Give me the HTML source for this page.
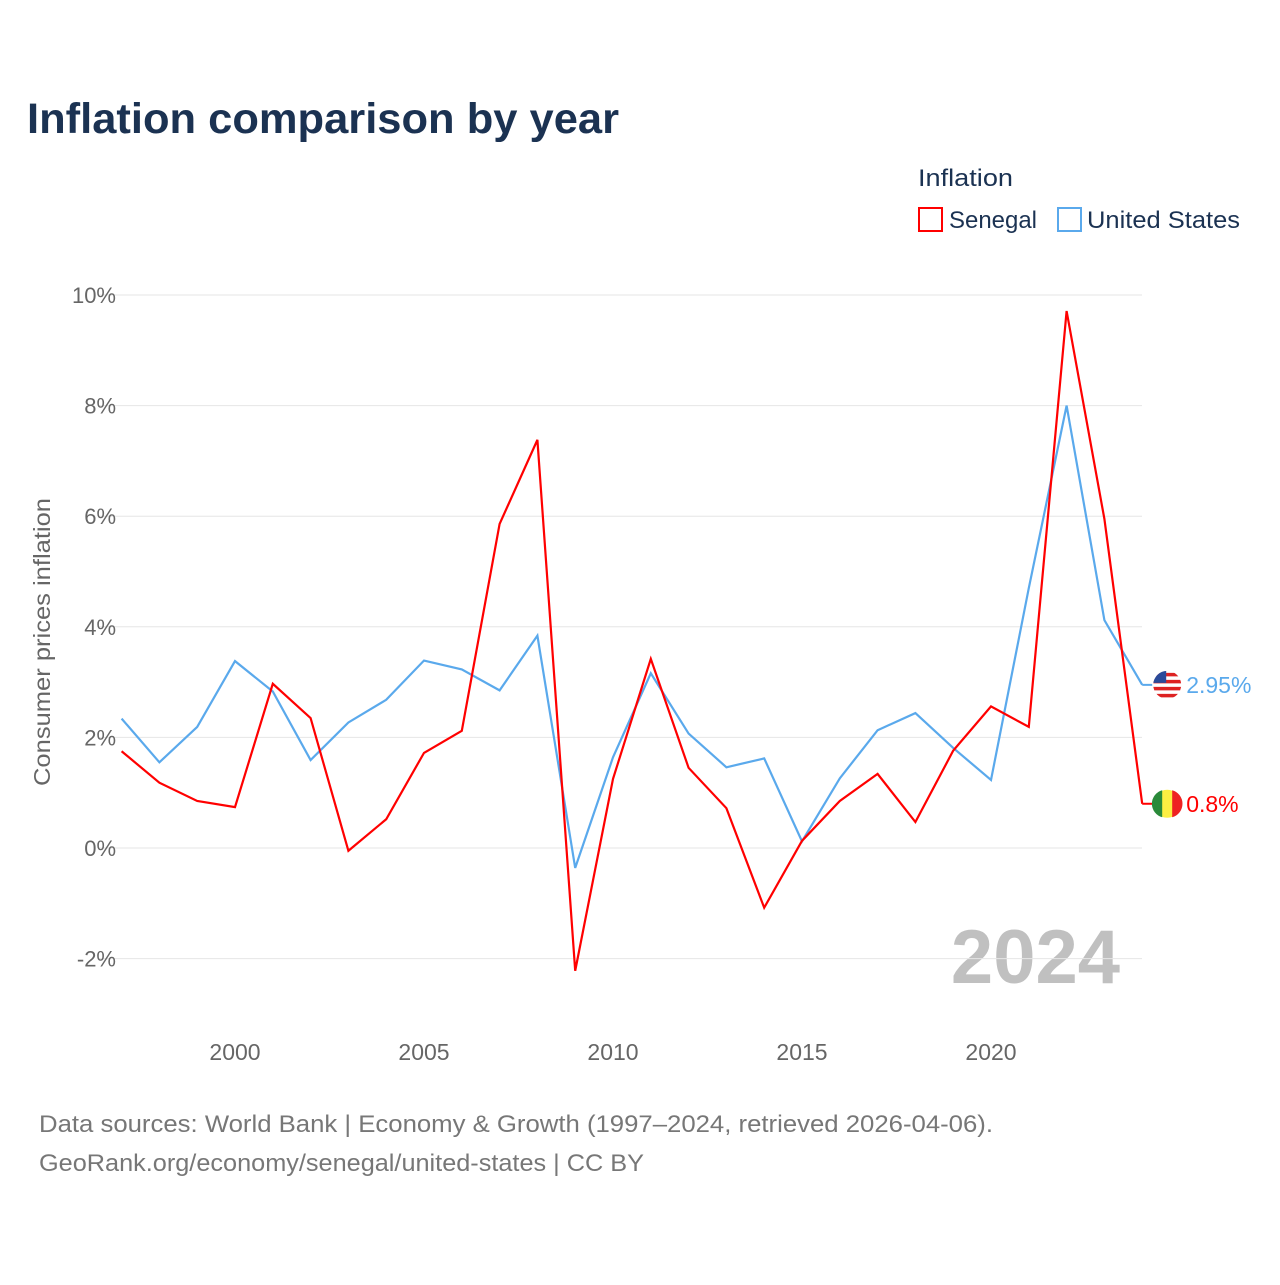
<!DOCTYPE html>
<html><head><meta charset="utf-8"><style>
body{margin:0;background:#fff;font-family:"Liberation Sans",sans-serif;}
svg text{font-family:"Liberation Sans",sans-serif;}
</style></head><body>
<svg id="chart" width="1280" height="1280" xmlns="http://www.w3.org/2000/svg">
<defs><clipPath id="usclip"><circle cx="1167" cy="685" r="14"/></clipPath></defs>
<text x="27" y="133" font-size="43" font-weight="bold" fill="#1b3252" textLength="592" lengthAdjust="spacingAndGlyphs">Inflation comparison by year</text>
<text x="918" y="186" font-size="24" fill="#1b3252" textLength="95" lengthAdjust="spacingAndGlyphs">Inflation</text>
<rect x="919" y="208" width="23" height="23" fill="none" stroke="#ff0000" stroke-width="2"/>
<text x="949" y="228" font-size="24" fill="#1b3252" textLength="88" lengthAdjust="spacingAndGlyphs">Senegal</text>
<rect x="1058" y="208" width="23" height="23" fill="none" stroke="#5aa9ec" stroke-width="2"/>
<text x="1087" y="228" font-size="24" fill="#1b3252" textLength="153" lengthAdjust="spacingAndGlyphs">United States</text>
<text transform="translate(50,642) rotate(-90)" text-anchor="middle" font-size="23" fill="#666" textLength="288" lengthAdjust="spacingAndGlyphs">Consumer prices inflation</text>
<text x="1120" y="983" text-anchor="end" font-size="76" font-weight="bold" fill="#c0c0c0">2024</text>
<g id="grid"></g><g id="xt"></g><g id="lines"></g>
<text x="39" y="1132" font-size="24" fill="#777" textLength="954" lengthAdjust="spacingAndGlyphs">Data sources: World Bank | Economy &amp; Growth (1997–2024, retrieved 2026-04-06).</text>
<text x="39" y="1171" font-size="24" fill="#777" textLength="605" lengthAdjust="spacingAndGlyphs">GeoRank.org/economy/senegal/united-states | CC BY</text>
</svg>
<script>
const years=[1997,1998,1999,2000,2001,2002,2003,2004,2005,2006,2007,2008,2009,2010,2011,2012,2013,2014,2015,2016,2017,2018,2019,2020,2021,2022,2023,2024];
const senegal=[1.75,1.18,0.85,0.74,2.97,2.35,-0.05,0.52,1.72,2.12,5.86,7.38,-2.22,1.25,3.42,1.45,0.72,-1.08,0.13,0.85,1.34,0.47,1.76,2.56,2.19,9.71,5.95,0.8];
const us=[2.34,1.55,2.19,3.38,2.83,1.59,2.27,2.68,3.39,3.23,2.85,3.84,-0.36,1.64,3.16,2.07,1.46,1.62,0.12,1.26,2.13,2.44,1.81,1.23,4.70,8.0,4.12,2.95];
const yTicks=[-2,0,2,4,6,8,10];
const xTicks=[2000,2005,2010,2015,2020];
const NS="http://www.w3.org/2000/svg";
const X=y=>121.6+(y-1997)*37.8;
const Y=v=>848-v*55.3;
function mk(t,a,p){const e=document.createElementNS(NS,t);for(const k in a)e.setAttribute(k,a[k]);p.appendChild(e);return e;}
const g=document.getElementById('grid');
yTicks.forEach(v=>{
 const l=mk('line',{x1:98,x2:1142,y1:Y(v),y2:Y(v),stroke:'#e6e6e6','stroke-width':1},g);
 
 
 const t=mk('text',{x:116,y:Y(v)+8,'text-anchor':'end','font-size':22,fill:'#666'},g);
 t.textContent=v+'%';
 
 
});
const xt=document.getElementById('xt');
xTicks.forEach(v=>{
 const t=mk('text',{x:X(v),y:1060,'text-anchor':'middle','font-size':23,fill:'#666'},xt);
 t.textContent=v;
 
 
});
const L=document.getElementById('lines');
function series(vals,color,name,label){
 const pts=vals.map((v,i)=>X(years[i])+','+Y(v)).join(' ');
 const p=mk('polyline',{points:pts,fill:'none',stroke:color,'stroke-width':2.2,'stroke-linejoin':'miter'},L);
 
 
 const last=vals[vals.length-1], yy=Y(last), x0=X(years[years.length-1]);
 const s=mk('line',{x1:x0,x2:x0+10,y1:yy,y2:yy,stroke:color,'stroke-width':2},L);
 
 
 const fg=mk('g',{},L);
 if(name==='us'){
  document.querySelector('#usclip circle').setAttribute('cx',x0+25);
  document.querySelector('#usclip circle').setAttribute('cy',yy);
  fg.setAttribute('clip-path','url(#usclip)');
 }
 const c=mk('circle',{cx:x0+25,cy:yy,r:14,fill:name==='us'?'#fff':'#fdef42'},fg);
 
 
 if(name==='us'){
  for(let k=0;k<4;k++){const r=mk('rect',{x:x0+10,y:yy-12+k*7,width:30,height:3.5,fill:'#d22'},fg);}
  const b=mk('rect',{x:x0+10,y:yy-14,width:14,height:12,fill:'#2a4a9a'},fg);
 } else {
  const a=mk('path',{d:`M${x0+25-5},${yy-13.5} A14,14 0 0 0 ${x0+25-5},${yy+13.5} Z`,fill:'#2a8a3a'},fg);
  const b=mk('path',{d:`M${x0+25+5},${yy-13.5} A14,14 0 0 1 ${x0+25+5},${yy+13.5} Z`,fill:'#e22'},fg);
 }
 const t=mk('text',{x:x0+44,y:yy+8,'font-size':23,fill:color},L);
 t.textContent=label;
 
 
}
series(us,'#5aa9ec','us','2.95%');
series(senegal,'#ff0000','senegal','0.8%');
</script>
</body></html>
